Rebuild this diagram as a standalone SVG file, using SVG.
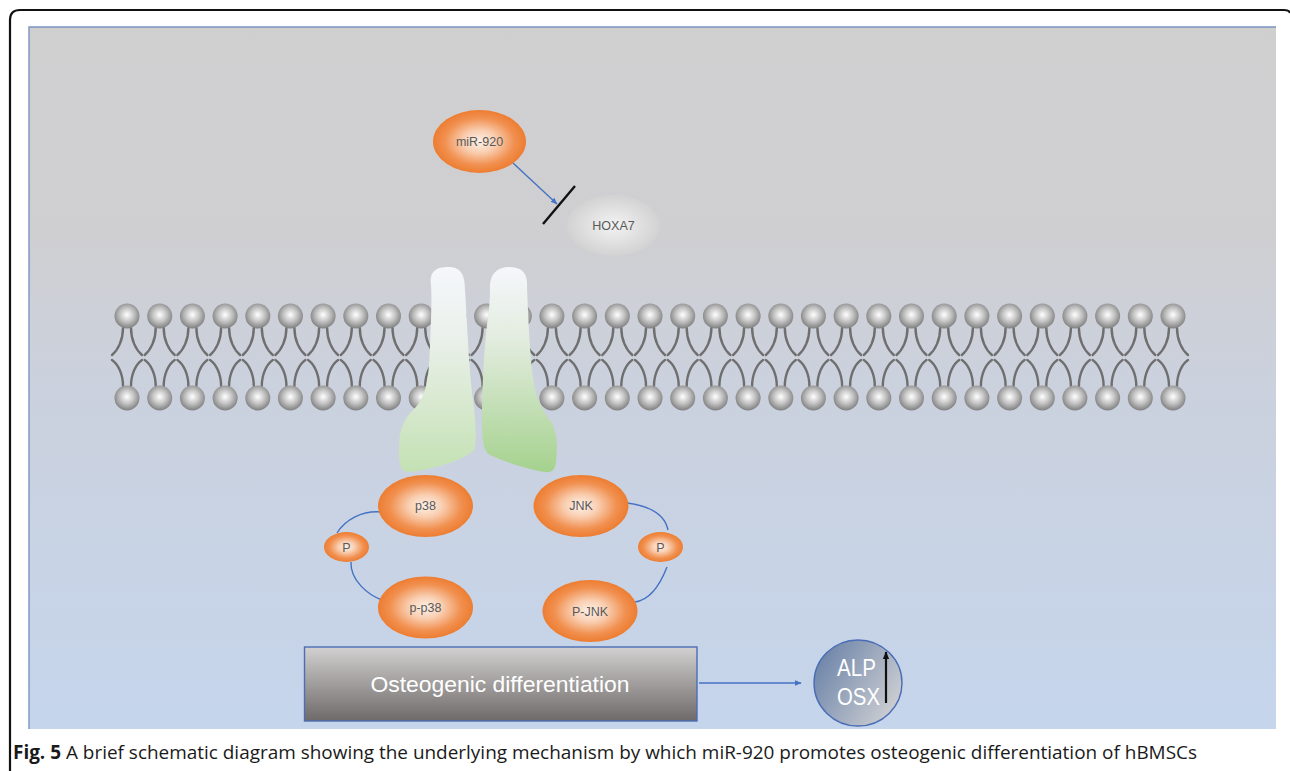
<svg xmlns="http://www.w3.org/2000/svg" xmlns:xlink="http://www.w3.org/1999/xlink" width="1290" height="771" viewBox="0 0 1290 771">
  <style>
    .lbl { font-family: "Liberation Sans", Arial, sans-serif; font-size: 12.5px; fill: #595959; text-anchor: middle; }
    .big { font-family: "Liberation Sans", Arial, sans-serif; fill: #ffffff; text-anchor: middle; }
    .link { fill: none; stroke: #4472c4; stroke-width: 1.4; }
    .tail { fill: none; stroke: #6f6f6f; stroke-width: 2.4; stroke-linecap: round; }
    .orange { fill: url(#gOrange); }
    .caption { font-family: "Open Sans", "Liberation Sans", sans-serif; font-size: 19px; fill: #1a1a1a; }
  </style>
  <defs>
    <linearGradient id="gPanel" x1="0" y1="0" x2="0" y2="1">
      <stop offset="0" stop-color="#d0cfd0"/>
      <stop offset="0.3" stop-color="#cfcfd2"/>
      <stop offset="0.5" stop-color="#cbd1dd"/>
      <stop offset="1" stop-color="#c5d5ec"/>
    </linearGradient>
    <radialGradient id="gOrange" cx="0.5" cy="0.5" r="0.5">
      <stop offset="0" stop-color="#fdf1e8"/>
      <stop offset="0.35" stop-color="#f9cfb2"/>
      <stop offset="0.75" stop-color="#f19050"/>
      <stop offset="1" stop-color="#ed7d31"/>
    </radialGradient>
    <radialGradient id="gGrey" cx="0.5" cy="0.5" r="0.5">
      <stop offset="0" stop-color="#f3f3f3"/>
      <stop offset="1" stop-color="#d2d2d2"/>
    </radialGradient>
    <radialGradient id="gHead" cx="0.5" cy="0.45" r="0.55">
      <stop offset="0" stop-color="#ffffff"/>
      <stop offset="0.5" stop-color="#c4c4c4"/>
      <stop offset="1" stop-color="#7f7f7f"/>
    </radialGradient>
    <linearGradient id="gChanL" x1="0" y1="0" x2="0" y2="1">
      <stop offset="0" stop-color="#f5f7fb"/>
      <stop offset="0.35" stop-color="#eaf0ea"/>
      <stop offset="1" stop-color="#c4e1b3"/>
    </linearGradient>
    <linearGradient id="gChanR" x1="0" y1="0" x2="0" y2="1">
      <stop offset="0" stop-color="#f5f7fb"/>
      <stop offset="0.35" stop-color="#e3ecdf"/>
      <stop offset="1" stop-color="#a5d28e"/>
    </linearGradient>
    <linearGradient id="gBox" x1="0" y1="0" x2="0" y2="1">
      <stop offset="0" stop-color="#d2d0d0"/>
      <stop offset="1" stop-color="#6e6a69"/>
    </linearGradient>
    <linearGradient id="gCircle" x1="0" y1="0.2" x2="1" y2="0.8">
      <stop offset="0" stop-color="#6a82a8"/>
      <stop offset="1" stop-color="#d2d2d4"/>
    </linearGradient>
    <marker id="arrowBlue" viewBox="0 0 10 10" refX="9" refY="5" markerWidth="7" markerHeight="7" orient="auto" markerUnits="userSpaceOnUse">
      <path d="M0,1 L10,5 L0,9 z" fill="#4472c4"/>
    </marker>
    <marker id="arrowBlack" viewBox="0 0 10 10" refX="9" refY="5" markerWidth="8" markerHeight="8" orient="auto" markerUnits="userSpaceOnUse">
      <path d="M0,1 L10,5 L0,9 z" fill="#111111"/>
    </marker>
    <!-- one phospholipid pair: outer head, tails, inner head -->
    <g id="lipid">
      <path class="tail" d="M-4,328 C-4,340 -9,350 -15,355 M4,328 C4,340 9,350 15,355"/>
      <path class="tail" d="M-4,386 C-4,374 -9,364 -15,360 M4,386 C4,374 9,364 15,360"/>
      <circle cx="0" cy="316" r="12.5" fill="url(#gHead)"/>
      <circle cx="0" cy="398" r="12.5" fill="url(#gHead)"/>
    </g>
  </defs>

  <!-- page frame -->
  <rect x="0" y="0" width="1290" height="771" fill="#ffffff"/>
  <path d="M10,771 V20 Q10,10 20,10 H1284 Q1289,10 1290,13" fill="none" stroke="#111111" stroke-width="2.2"/>

  <!-- figure panel -->
  <rect x="29" y="27" width="1247" height="702" fill="url(#gPanel)"/>
  <path d="M29,729 V27 H1276" fill="none" stroke="#7b93c2" stroke-width="1.4"/>

  <!-- lipid bilayer -->
  <g id="membrane">
    <use xlink:href="#lipid" x="127"/>
    <use xlink:href="#lipid" x="159.7"/>
    <use xlink:href="#lipid" x="192.4"/>
    <use xlink:href="#lipid" x="225.1"/>
    <use xlink:href="#lipid" x="257.8"/>
    <use xlink:href="#lipid" x="290.4"/>
    <use xlink:href="#lipid" x="323.1"/>
    <use xlink:href="#lipid" x="355.8"/>
    <use xlink:href="#lipid" x="388.5"/>
    <use xlink:href="#lipid" x="421.2"/>
    <use xlink:href="#lipid" x="453.9"/>
    <use xlink:href="#lipid" x="486.6"/>
    <use xlink:href="#lipid" x="519.3"/>
    <use xlink:href="#lipid" x="551.9"/>
    <use xlink:href="#lipid" x="584.6"/>
    <use xlink:href="#lipid" x="617.3"/>
    <use xlink:href="#lipid" x="650"/>
    <use xlink:href="#lipid" x="682.7"/>
    <use xlink:href="#lipid" x="715.4"/>
    <use xlink:href="#lipid" x="748.1"/>
    <use xlink:href="#lipid" x="780.8"/>
    <use xlink:href="#lipid" x="813.4"/>
    <use xlink:href="#lipid" x="846.1"/>
    <use xlink:href="#lipid" x="878.8"/>
    <use xlink:href="#lipid" x="911.5"/>
    <use xlink:href="#lipid" x="944.2"/>
    <use xlink:href="#lipid" x="976.9"/>
    <use xlink:href="#lipid" x="1009.6"/>
    <use xlink:href="#lipid" x="1042.3"/>
    <use xlink:href="#lipid" x="1074.9"/>
    <use xlink:href="#lipid" x="1107.6"/>
    <use xlink:href="#lipid" x="1140.3"/>
    <use xlink:href="#lipid" x="1173"/>
  </g>

  <!-- receptor channel -->
  <g id="channel">
    <path fill="url(#gChanL)" d="M431,285 C429,271 437,267 448,267 C459,267 465,272 465,290 C467,320 469,370 473,400 C476,425 477,440 474,450 C465,460 430,470 410,472 C401,472 399,466 399,450 C399,430 403,420 415,408 C426,396 429,380 430,345 C431,320 432,300 431,285 Z"/>
    <path fill="url(#gChanR)" d="M490,290 C489,274 497,267 509,267 C521,267 528,272 527,287 C528,310 529,340 532,370 C535,395 540,408 550,420 C557,430 558,445 556,462 C555,470 552,473 545,472 C530,470 505,462 490,455 C483,451 482,440 482,420 C482,390 484,350 487,325 C489,310 490,300 490,290 Z"/>
  </g>

  <!-- connectors -->
  <g id="connectors">
    <line class="link" x1="513" y1="163" x2="557" y2="204" stroke-width="1.8" marker-end="url(#arrowBlue)"/>
    <line x1="543" y1="224" x2="575" y2="186" stroke="#111111" stroke-width="2.4"/>
    <path class="link" d="M337,533 C345,520 362,510 382,512"/>
    <path class="link" d="M351,562 C350,580 368,595 382,600"/>
    <path class="link" d="M627,503 C650,506 665,515 668,530"/>
    <path class="link" d="M667,567 C660,585 650,600 635,602"/>
    <line class="link" x1="699" y1="683" x2="801" y2="683" marker-end="url(#arrowBlue)"/>
  </g>

  <g id="mir920">
    <ellipse class="orange" cx="479.5" cy="141.5" rx="46.5" ry="31.5"/>
    <text class="lbl" x="479.5" y="146">miR-920</text>
  </g>
  <g id="hoxa7">
    <ellipse cx="613.5" cy="225.5" rx="46.5" ry="30.5" fill="url(#gGrey)"/>
    <text class="lbl" x="613.5" y="230">HOXA7</text>
  </g>
  <g id="p38">
    <ellipse class="orange" cx="425.5" cy="506" rx="47.5" ry="31"/>
    <text class="lbl" x="425.5" y="510">p38</text>
  </g>
  <g id="jnk">
    <ellipse class="orange" cx="581" cy="506" rx="47.5" ry="31"/>
    <text class="lbl" x="581" y="510">JNK</text>
  </g>
  <g id="p-left">
    <ellipse class="orange" cx="346.5" cy="547" rx="22.5" ry="15"/>
    <text class="lbl" x="346.5" y="551.5">P</text>
  </g>
  <g id="p-right">
    <ellipse class="orange" cx="660.5" cy="547" rx="22.5" ry="15"/>
    <text class="lbl" x="660.5" y="551.5">P</text>
  </g>
  <g id="pp38">
    <ellipse class="orange" cx="425.5" cy="607.5" rx="47.5" ry="31"/>
    <text class="lbl" x="425.5" y="612">p-p38</text>
  </g>
  <g id="pjnk">
    <ellipse class="orange" cx="590" cy="611" rx="47.5" ry="31"/>
    <text class="lbl" x="590" y="615.5">P-JNK</text>
  </g>

  <g id="osteogenic">
    <rect x="304.5" y="647" width="392.5" height="74" fill="url(#gBox)" stroke="#4a6db5" stroke-width="1.4"/>
    <text class="big" x="500" y="692" font-size="22" textLength="259" lengthAdjust="spacingAndGlyphs">Osteogenic differentiation</text>
  </g>

  <g id="markers">
    <ellipse cx="858" cy="683" rx="44" ry="43" fill="url(#gCircle)" stroke="#4a6db5" stroke-width="1.4"/>
    <text class="big" x="856.5" y="676" font-size="24" textLength="39" lengthAdjust="spacingAndGlyphs">ALP</text>
    <text class="big" x="858.5" y="705" font-size="24" textLength="43" lengthAdjust="spacingAndGlyphs">OSX</text>
    <line x1="886" y1="703" x2="886" y2="652" stroke="#111111" stroke-width="2.2" marker-end="url(#arrowBlack)"/>
  </g>

  <text class="caption" x="13" y="759" textLength="1184" lengthAdjust="spacingAndGlyphs"><tspan font-weight="bold">Fig. 5</tspan> A brief schematic diagram showing the underlying mechanism by which miR-920 promotes osteogenic differentiation of hBMSCs</text>
</svg>
